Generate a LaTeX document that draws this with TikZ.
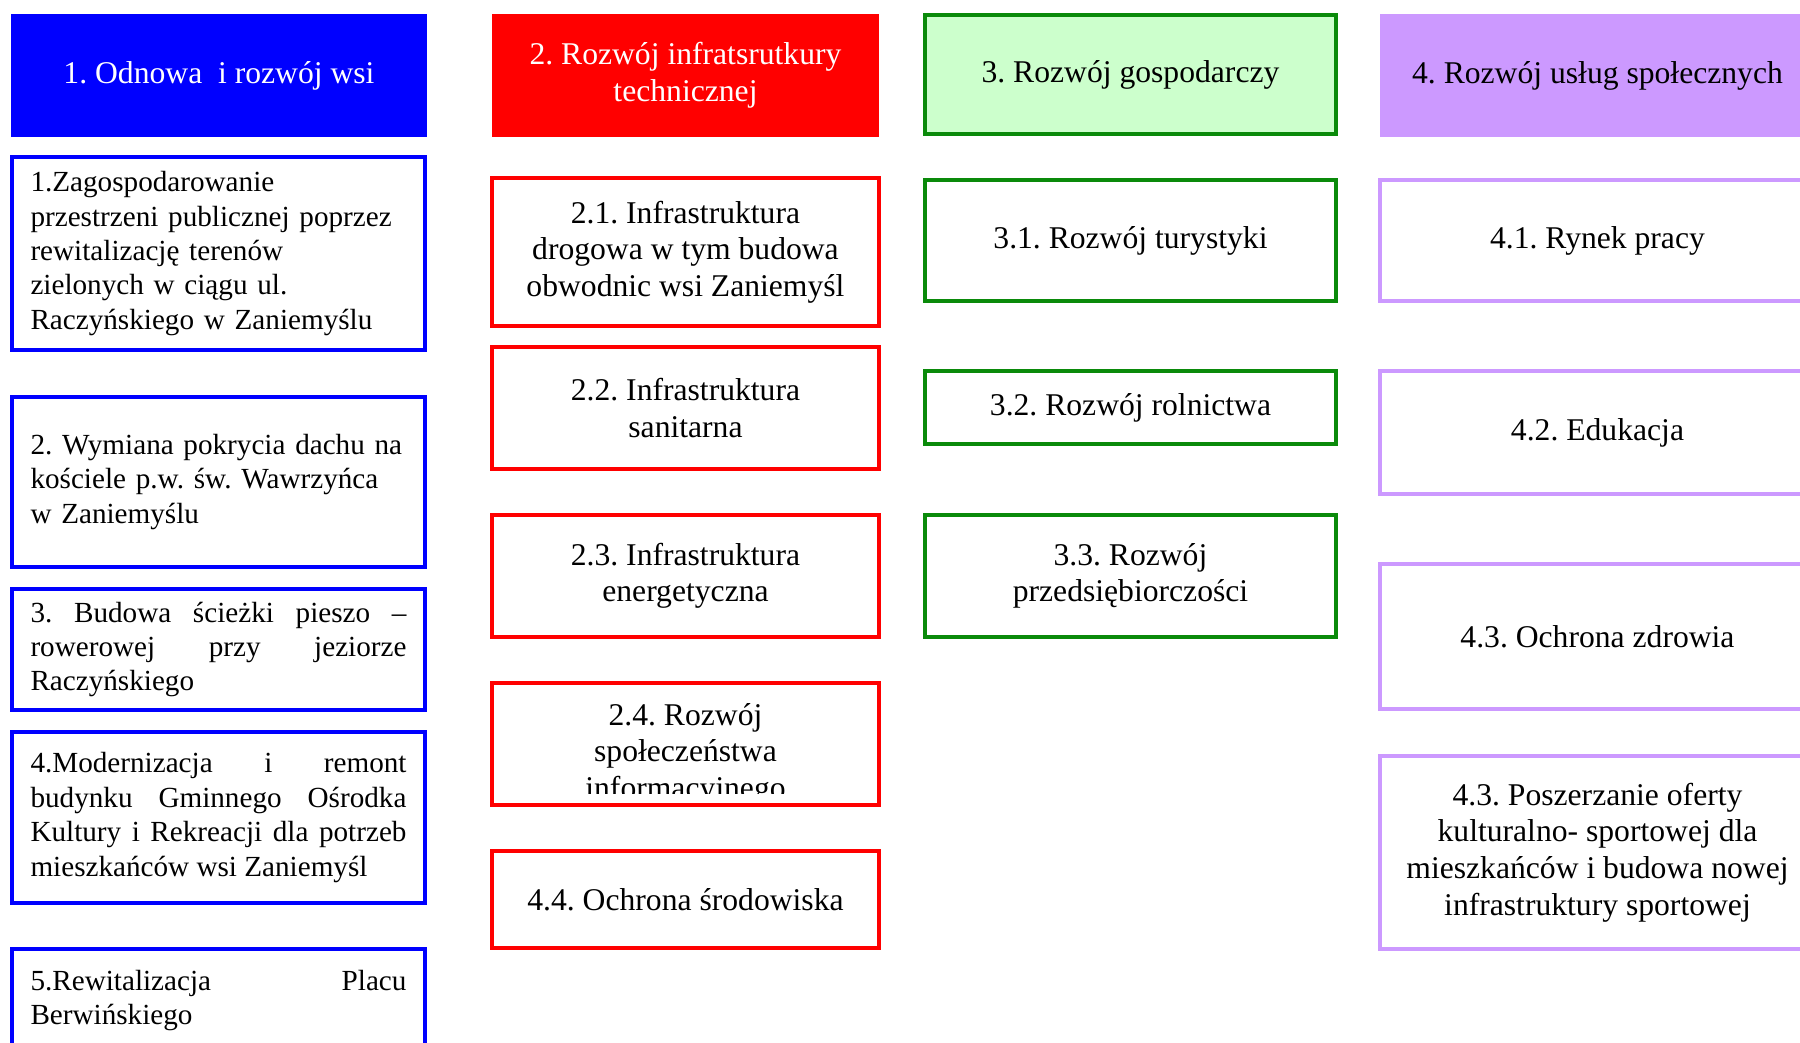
\documentclass[tikz,border=0pt]{standalone}
\usepackage{fontspec}
\setmainfont{Liberation Serif}
\frenchspacing
\usetikzlibrary{positioning}
\definecolor{myblue}{HTML}{0000FF}
\definecolor{myred}{HTML}{FF0000}
\definecolor{mygreen}{HTML}{0A8A0A}
\definecolor{mylightgreen}{HTML}{CCFFCC}
\definecolor{mypurple}{HTML}{CC99FF}
\tikzset{
	smalltext/.style={font=\fontsize{8.3}{9.8}\selectfont},
	bigtext/.style={font=\fontsize{9}{10.4}\selectfont}
}
\tikzset{
	box/.style={draw, rectangle, inner sep=0pt, line width=1.1pt, align=center},
	headbox/.style={box, bigtext, minimum height=1.23cm},
	bluebox/.style={box, draw=myblue, smalltext, minimum width=4.13cm, text width=3.76cm},
	redbox/.style={box, draw=myred, bigtext, minimum width=3.87cm},
	greenbox/.style={box, draw=mygreen, bigtext, minimum width=4.11cm},
	purplebox/.style={box, draw=mypurple, bigtext, minimum width=4.35cm}
}

\begin{document}
\begin{tikzpicture}[line width=1.1pt]
      \clip (0,-10.43) rectangle (18,0);

      % headers of the four columns
      \node[headbox, draw=none, fill=myblue, text=white, minimum width=4.16cm] (h1) at (2.19,-0.755) {1. Odnowa\ \ i rozwój wsi};
      \node[headbox, draw=none, fill=myred, text=white, minimum width=3.87cm] (h2) at (6.855,-0.755) {2. Rozwój infratsrutkury\\technicznej};
      \node[headbox, draw=mygreen, fill=mylightgreen, minimum width=4.11cm, minimum height=1.19cm] (h3) at (11.305,-0.745) {3. Rozwój gospodarczy};
      \node[headbox, draw=none, fill=mypurple, minimum width=4.35cm] (h4) at (15.975,-0.76) {4. Rozwój usług społecznych};

      % column 1
      \node[bluebox, align=left, minimum height=1.93cm] (b11) at (2.185,-2.535)
        {1.Zagospodarowanie\\przestrzeni publicznej poprzez\\rewitalizację terenów\\zielonych w ciągu ul.\\Raczyńskiego w Zaniemyślu};
      \node[bluebox, align=left, minimum height=1.70cm] (b12) at (2.185,-4.82)
        {2. Wymiana pokrycia dachu na\\kościele p.w. św. Wawrzyńca\\w Zaniemyślu};
      \node[bluebox, align=justify, minimum height=1.21cm] (b13) at (2.185,-6.495)
        {3. Budowa ścieżki pieszo –\linebreak rowerowej przy jeziorze\linebreak Raczyńskiego};
      \node[bluebox, align=justify, minimum height=1.71cm] (b14) at (2.185,-8.175)
        {4.Modernizacja i remont\linebreak budynku Gminnego Ośrodka\linebreak Kultury i Rekreacji dla potrzeb\linebreak mieszkańców wsi Zaniemyśl};
      \node[bluebox, align=justify, minimum height=1.03cm] (b15) at (2.185,-10.005)
        {5.Rewitalizacja Placu\linebreak Berwińskiego};

      % column 2
      \node[redbox, minimum height=1.48cm] (b21) at (6.855,-2.52) {2.1. Infrastruktura\\drogowa w tym budowa\\obwodnic wsi Zaniemyśl};
      \node[redbox, minimum height=1.22cm] (b22) at (6.855,-4.08) {2.2. Infrastruktura\\sanitarna};
      \node[redbox, minimum height=1.22cm] (b23) at (6.855,-5.76) {2.3. Infrastruktura\\energetyczna};
      \node[redbox, minimum height=1.22cm] (b24) at (6.855,-7.44) {};
      \begin{scope}
        \clip (4.9,-6.8) rectangle (8.8,-7.94);
        \node[bigtext, align=center, inner sep=0pt] (t24) at (6.855,-7.54) {2.4. Rozwój\\społeczeństwa\\informacyjnego};
      \end{scope}
      \node[redbox, minimum height=0.97cm] (b44) at (6.855,-8.995) {4.4. Ochrona środowiska};

      % column 3
      \node[greenbox, minimum height=1.21cm] (b31) at (11.305,-2.405) {3.1. Rozwój turystyki};
      \node[greenbox, minimum height=0.73cm] (b32) at (11.305,-4.075) {3.2. Rozwój rolnictwa};
      \node[greenbox, minimum height=1.22cm] (b33) at (11.305,-5.76) {3.3. Rozwój\\przedsiębiorczości};

      % column 4
      \node[purplebox, minimum height=1.21cm] (b41) at (15.975,-2.405) {4.1. Rynek pracy};
      \node[purplebox, minimum height=1.23cm] (b42) at (15.975,-4.325) {4.2. Edukacja};
      \node[purplebox, minimum height=1.45cm] (b43) at (15.975,-6.365) {4.3. Ochrona zdrowia};
      \node[purplebox, minimum height=1.93cm] (b43b) at (15.975,-8.525)
        {4.3. Poszerzanie oferty\\kulturalno- sportowej dla\\mieszkańców i budowa nowej\\infrastruktury sportowej};
    \end{tikzpicture}
\end{document}
